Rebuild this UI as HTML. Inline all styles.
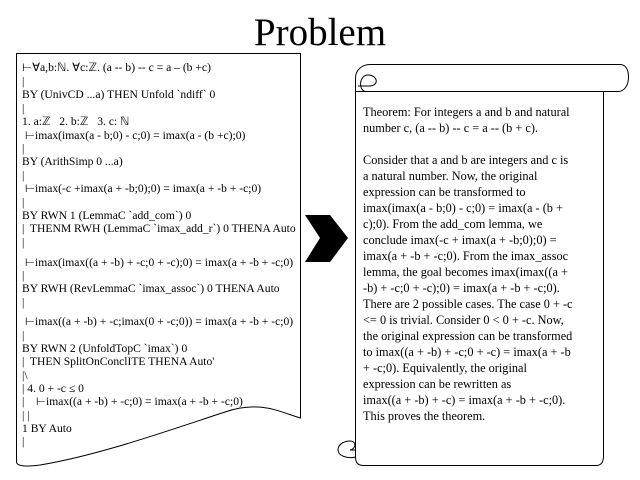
<!DOCTYPE html>
<html><head><meta charset="utf-8"><style>
body{margin:0;width:640px;height:480px;background:#fff;position:relative;overflow:hidden;font-family:"Liberation Serif",serif;}
.t{position:absolute;white-space:pre;font-size:11.6px;color:#000;line-height:13px;}
.r{position:absolute;white-space:pre;font-size:12.3px;color:#000;line-height:16px;}
</style></head><body>
<svg width="640" height="480" style="position:absolute;left:0;top:0">
<path d="M16.5 53.5 H300.5 V418 C280 412 260 400 225 412 C170 430 100 455 40 465 C25 467 16.5 466 16.5 462 Z" fill="#fff" stroke="#000" stroke-width="1"/>
<path d="M305 215 H330 L348 238 L330 262 H305 L320 238 Z" fill="#000"/>
<path d="M355.5 92 V457 C355.5 463 358 465.5 364 465.5 H596 C601 465.5 603.5 462 603.5 456 V92" fill="#fff" stroke="#000"/>
<path d="M370 64.5 H620 C626 64.5 628.5 70 628.5 77 C628.5 86 624 91.5 618 91.5 H355.5 V78 C355.5 70 362 64.5 370 64.5 Z" fill="#fff" stroke="#000"/>
<path d="M366 91.5 C358 91 359 75 368 75 C377 75 380 85 370 86 H358" fill="none" stroke="#000"/>
<path d="M355.5 457 C348 459 338 456 338 450 C338 443 346 441 350 441 C357 441 356 449 350 450 H355.5" fill="none" stroke="#000"/>
</svg>
<div style="position:absolute;left:0;width:640px;top:10px;text-align:center;font-size:39px;line-height:46px;">Problem</div>
<div class="t" style="left:22px;top:61px">⊢∀a,b:ℕ. ∀c:ℤ. (a -- b) -- c = a – (b +c)</div>
<div class="t" style="left:22px;top:75px">|</div>
<div class="t" style="left:22px;top:88px">BY (UnivCD ...a) THEN Unfold `ndiff` 0</div>
<div class="t" style="left:22px;top:102px">|</div>
<div class="t" style="left:22px;top:115px">1. a:ℤ   2. b:ℤ   3. c: ℕ</div>
<div class="t" style="left:22px;top:129px"> ⊢imax(imax(a - b;0) - c;0) = imax(a - (b +c);0)</div>
<div class="t" style="left:22px;top:142px">|</div>
<div class="t" style="left:22px;top:155px">BY (ArithSimp 0 ...a)</div>
<div class="t" style="left:22px;top:169px">|</div>
<div class="t" style="left:22px;top:182px"> ⊢imax(-c +imax(a + -b;0);0) = imax(a + -b + -c;0)</div>
<div class="t" style="left:22px;top:196px">|</div>
<div class="t" style="left:22px;top:209px">BY RWN 1 (LemmaC `add_com`) 0</div>
<div class="t" style="left:22px;top:222px">|  THENM RWH (LemmaC `imax_add_r`) 0 THENA Auto</div>
<div class="t" style="left:22px;top:236px">|</div>
<div class="t" style="left:22px;top:256px"> ⊢imax(imax((a + -b) + -c;0 + -c);0) = imax(a + -b + -c;0)</div>
<div class="t" style="left:22px;top:269px">|</div>
<div class="t" style="left:22px;top:282px">BY RWH (RevLemmaC `imax_assoc`) 0 THENA Auto</div>
<div class="t" style="left:22px;top:296px">|</div>
<div class="t" style="left:22px;top:315px"> ⊢imax((a + -b) + -c;imax(0 + -c;0)) = imax(a + -b + -c;0)</div>
<div class="t" style="left:22px;top:329px">|</div>
<div class="t" style="left:22px;top:342px">BY RWN 2 (UnfoldTopC `imax`) 0</div>
<div class="t" style="left:22px;top:355px">|  THEN SplitOnConclITE THENA Auto'</div>
<div class="t" style="left:22px;top:369px">|\</div>
<div class="t" style="left:22px;top:382px">| 4. 0 + -c ≤ 0</div>
<div class="t" style="left:22px;top:395px">|    ⊢imax((a + -b) + -c;0) = imax(a + -b + -c;0)</div>
<div class="t" style="left:22px;top:409px">| |</div>
<div class="t" style="left:22px;top:422px">1 BY Auto</div>
<div class="t" style="left:22px;top:435px">|</div>
<div class="r" style="left:363px;top:104px">Theorem: For integers a and b and natural
number c, (a -- b) -- c = a -- (b + c).

Consider that a and b are integers and c is
a natural number. Now, the original
expression can be transformed to
imax(imax(a - b;0) - c;0) = imax(a - (b +
c);0). From the add_com lemma, we
conclude imax(-c + imax(a + -b;0);0) =
imax(a + -b + -c;0). From the imax_assoc
lemma, the goal becomes imax(imax((a +
-b) + -c;0 + -c);0) = imax(a + -b + -c;0).
There are 2 possible cases. The case 0 + -c
&lt;= 0 is trivial. Consider 0 &lt; 0 + -c. Now,
the original expression can be transformed
to imax((a + -b) + -c;0 + -c) = imax(a + -b
+ -c;0). Equivalently, the original
expression can be rewritten as
imax((a + -b) + -c) = imax(a + -b + -c;0).
This proves the theorem.</div>
</body></html>
